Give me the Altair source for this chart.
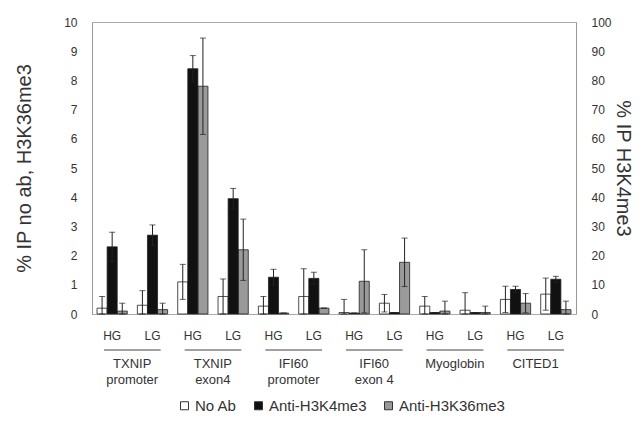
import altair as alt
import pandas as pd

# ---- data ----
genes = ["TXNIP promoter", "TXNIP exon4", "IFI60 promoter", "IFI60 exon 4", "Myoglobin", "CITED1"]
gene_labels = ["TXNIP\npromoter", "TXNIP\nexon4", "IFI60\npromoter", "IFI60\nexon 4", "Myoglobin", "CITED1"]
conds = ["HG", "LG"]
series = ["No Ab", "Anti-H3K4me3", "Anti-H3K36me3"]

# left axis (% IP no ab, H3K36me3), one value per HG/LG column
noab = [0.2, 0.3, 1.1, 0.6, 0.27, 0.6, 0.05, 0.37, 0.27, 0.13, 0.5, 0.68]
noab_err = [0.4, 0.5, 0.6, 0.6, 0.33, 0.95, 0.45, 0.3, 0.33, 0.6, 0.45, 0.55]
k36 = [0.1, 0.15, 7.8, 2.2, 0.03, 0.2, 1.12, 1.77, 0.1, 0.05, 0.37, 0.15]
k36_err = [0.27, 0.22, 1.65, 1.05, 0.0, 0.0, 1.08, 0.83, 0.34, 0.22, 0.33, 0.29]
# right axis (% IP H3K4me3)
k4 = [23, 27, 84, 39.5, 12.6, 12.2, 0.3, 0.5, 0.5, 0.5, 8.4, 11.9]
k4_err = [5, 3.5, 4.5, 3.5, 2.7, 2.1, 0, 0, 0, 0, 1.1, 1.0]

cat_keys = [f"{g}|{c}" for g in genes for c in conds]

left_rows, right_rows = [], []
for i, key in enumerate(cat_keys):
    left_rows.append({"cat": key, "series": "No Ab", "value": noab[i], "err": noab_err[i]})
    left_rows.append({"cat": key, "series": "Anti-H3K36me3", "value": k36[i], "err": k36_err[i]})
    right_rows.append({"cat": key, "series": "Anti-H3K4me3", "value": k4[i], "err": k4_err[i]})
left_df = pd.DataFrame(left_rows)
right_df = pd.DataFrame(right_rows)
gene_df = pd.DataFrame({
    "hg": [f"{g}|HG" for g in genes],
    "lg": [f"{g}|LG" for g in genes],
    "label": gene_labels,
})

FONT = "Liberation Sans"
TXT = "#333333"

x_scale = alt.Scale(domain=cat_keys, paddingInner=0.25, paddingOuter=0.125)
x_axis = alt.Axis(labelExpr="split(datum.value, '|')[1]", ticks=False, domain=False,
                  labelAngle=0, labelPadding=16, labelFontSize=12, labelColor=TXT, title=None)
xo = alt.XOffset("series:N", scale=alt.Scale(domain=series, paddingInner=0, paddingOuter=0))
color = alt.Color("series:N",
                  scale=alt.Scale(domain=series, range=["#ffffff", "#111111", "#9a9a9a"]),
                  legend=alt.Legend(orient="none", legendX=85, legendY=376, direction="horizontal",
                                    title=None, symbolType="square", symbolSize=64,
                                    symbolStrokeColor="#333", symbolStrokeWidth=1,
                                    labelFontSize=15, labelColor=TXT, labelFont=FONT,
                                    columnPadding=14, labelOffset=3))

left_axis = alt.Axis(values=list(range(11)), title="% IP no ab, H3K36me3", titleFontSize=20,
                     titleFontWeight="normal", titleColor=TXT, labelFontSize=12, labelColor=TXT,
                     ticks=False, domainColor="#999", grid=False, labelPadding=15, titlePadding=29)
right_axis = alt.Axis(values=list(range(0, 101, 10)), title="% IP H3K4me3", titleFontSize=20,
                      titleFontWeight="normal", titleColor=TXT, labelFontSize=12, labelColor=TXT,
                      ticks=False, domainColor="#999", grid=False, labelPadding=15, titlePadding=1,
                      orient="right")
ly = alt.Scale(domain=[0, 10], nice=False)
ry = alt.Scale(domain=[0, 100], nice=False)


def group(df, yscale, yaxis):
    base = alt.Chart(df).transform_calculate(
        hi="datum.value + datum.err", lo="max(0, datum.value - datum.err)")
    X = alt.X("cat:N", scale=x_scale, axis=x_axis)
    bars = base.mark_bar(stroke="#222", strokeWidth=0.8).encode(
        x=X, xOffset=xo, y=alt.Y("value:Q", scale=yscale, axis=yaxis), color=color)
    err = base.mark_rule(color="#222", strokeWidth=1).encode(
        x=X, xOffset=xo, y=alt.Y("lo:Q", scale=yscale, axis=yaxis), y2="hi:Q")
    cap_hi = base.mark_tick(color="#222", thickness=1, size=6).encode(
        x=X, xOffset=xo, y=alt.Y("hi:Q", scale=yscale, axis=yaxis))
    cap_lo = base.mark_tick(color="#222", thickness=1, size=6).encode(
        x=X, xOffset=xo, y=alt.Y("lo:Q", scale=yscale, axis=yaxis))
    return alt.layer(bars, err, cap_hi, cap_lo)


left = group(left_df, ly, left_axis)
right = group(right_df, ry, right_axis)

gene_rule = alt.Chart(gene_df).mark_rule(color="#444", strokeWidth=1.2).encode(
    x=alt.X("hg:N", scale=x_scale, axis=x_axis, bandPosition=0.23),
    x2=alt.X2("lg:N", bandPosition=0.77),
    y=alt.value(328))
gene_text = alt.Chart(gene_df).mark_text(font=FONT, fontSize=13, color=TXT, baseline="top",
                                         lineBreak="\n", lineHeight=16, dx=20).encode(
    x=alt.X("hg:N", scale=x_scale, axis=x_axis),
    y=alt.value(336),
    text="label:N")

chart = alt.layer(left, right, gene_rule, gene_text).resolve_scale(y="independent").properties(
    width=484, height=292,
    autosize=alt.AutoSizeParams(type="none"),
    padding={"left": 84, "top": 14, "right": 59, "bottom": 100},
).configure(font=FONT).configure_view(stroke="#aaa", strokeWidth=1)

chart.save("out.html", embed_options={"renderer": "svg", "actions": False})
